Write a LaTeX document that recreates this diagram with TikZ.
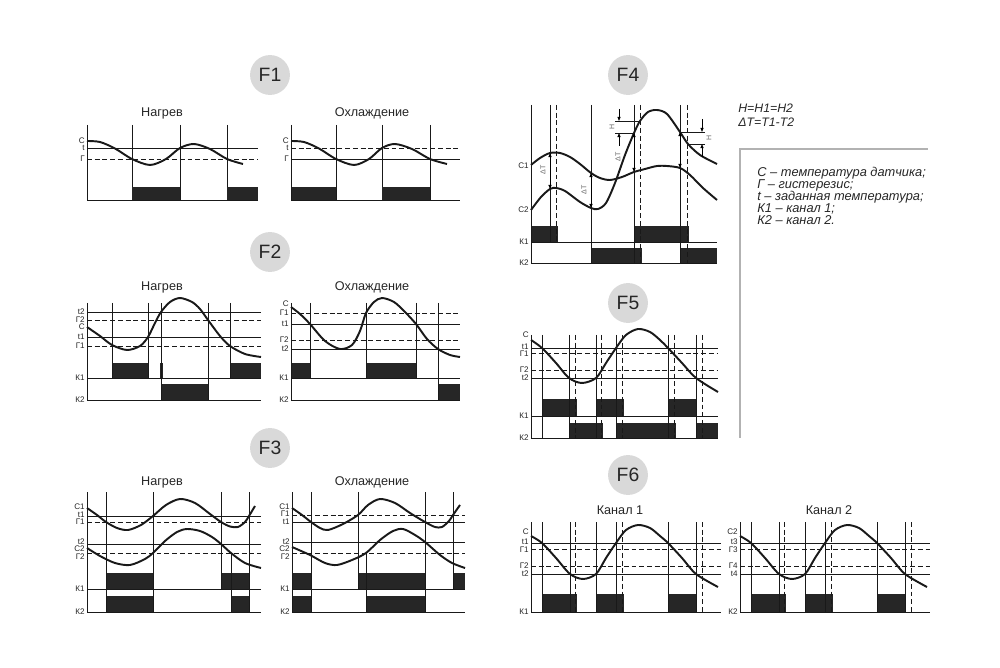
\documentclass[tikz,border=0pt]{standalone}
\usepackage{fontspec}
\setmainfont{Liberation Sans}
\usetikzlibrary{arrows.meta}
\begin{document}
\begin{tikzpicture}[x=0.02cm,y=-0.02cm,
  every node/.style={inner sep=0pt,text=black!85},
  ln/.style={line width=0.5pt,black!90},
  hys/.style={ln,dash pattern=on 2.8pt off 1.6pt},
  sig/.style={line width=1.1pt,black!90,line join=round},
  blk/.style={fill=black!85},
  tag/.style={anchor=east,font=\fontsize{4.6}{5}\selectfont},
  ttl/.style={font=\fontsize{7.2}{8}\selectfont},
  badge/.style={circle,fill=black!15,minimum size=22.7pt,font=\fontsize{11}{11}\selectfont},
  mini/.style={font=\fontsize{4}{4}\selectfont,text=black!60,rotate=90},
  tip/.style={-{Triangle[length=2.4pt,width=1.8pt]},line width=0.45pt},
  tips/.style={{Triangle[length=2.4pt,width=1.8pt]}-{Triangle[length=2.4pt,width=1.8pt]},line width=0.5pt}]
\useasboundingbox (0,0) rectangle (1000,668);
\node[badge] (f1) at (270,75) {F1};
\node[badge] (f2) at (270,252) {F2};
\node[badge] (f3) at (270,448) {F3};
\node[badge] (f4) at (628,75) {F4};
\node[badge] (f5) at (628,303) {F5};
\node[badge] (f6) at (628,475) {F6};
% F1
\node[ttl] (f1h) at (162,113) {Нагрев};
\node[ttl] (f1c) at (372,113) {Охлаждение};
\foreach \x in {132,180,227} \draw[ln] (\x,125) -- (\x,200);
\foreach \a/\b in {132/180,227/258} \fill[blk] (\a,187) rectangle (\b,200);
\draw[ln] (87,125) -- (87,200) -- (258,200);
\draw[ln] (87,148) -- (258,148);
\draw[hys] (87,159) -- (258,159);
\foreach \y/\s [count=\i] in {141/С,148/t,159/Г} \node[tag] (f1a\i) at (85,\y) {\s};
\draw[sig] plot[smooth] coordinates {(87,141) (100,142) (115,148.5) (132,159) (150,165) (166,159) (180,148) (194,144) (210,149) (227,159) (243,164)};
\begin{scope}[shift={(204,0)}]
\foreach \x in {132,178,226} \draw[ln] (\x,125) -- (\x,200);
\foreach \a/\b in {87/132,178/226} \fill[blk] (\a,187) rectangle (\b,200);
\draw[ln] (87,125) -- (87,200) -- (256,200);
\draw[hys] (87,148) -- (256,148);
\draw[ln] (87,159) -- (256,159);
\foreach \y/\s [count=\i] in {141/С,148/t,159/Г} \node[tag] (f1b\i) at (85,\y) {\s};
\draw[sig] plot[smooth] coordinates {(87,141) (100,142) (115,148.5) (132,159) (150,165) (165,159) (178,148) (191,144) (208,149) (226,159) (243,164)};
\end{scope}
% F2
\node[ttl] (f2h) at (162,287) {Нагрев};
\node[ttl] (f2c) at (372,287) {Охлаждение};
\foreach \a/\b in {112/148,160/163,230/261} \fill[blk] (\a,363) rectangle (\b,378);
\fill[blk] (161,384) rectangle (208,400);
\foreach \x/\e in {112/378,148/378,161/400,208/400,230/378} \draw[ln] (\x,303) -- (\x,\e);
\draw[ln] (87,303) -- (87,400) -- (261,400) (87,378) -- (261,378) (87,312) -- (261,312) (87,337) -- (261,337);
\draw[hys] (87,320) -- (261,320) (87,346) -- (261,346);
\foreach \y/\s [count=\i] in {312/t2,320/Г2,327/С,337/t1,346/Г1,378/К1,400/К2} \node[tag] (f2a\i) at (85,\y) {\s};
\draw[sig] plot[smooth] coordinates {(87,327) (100,336) (112,345) (127,350) (140,346) (148,337) (155,323) (161,312) (170,302) (180,298) (192,302) (200,309) (208,320) (220,336) (230,346) (245,354) (261,357)};
\foreach \a/\b in {291/310,366/416} \fill[blk] (\a,363) rectangle (\b,378);
\fill[blk] (438,384) rectangle (460,400);
\foreach \x/\e in {310/378,366/378,416/378,438/400} \draw[ln] (\x,303) -- (\x,\e);
\draw[ln] (291,303) -- (291,400) -- (460,400) (291,378) -- (460,378) (291,324) -- (460,324) (291,349) -- (460,349);
\draw[hys] (291,313) -- (460,313) (291,340) -- (460,340);
\foreach \y/\s [count=\i] in {304/С,313/Г1,324/t1,340/Г2,349/t2,378/К1,400/К2} \node[tag] (f2b\i) at (289,\y) {\s};
\draw[sig] plot[smooth] coordinates {(291,307) (300,314) (310,324) (325,341) (340,349) (352,345) (360,331) (366,313) (374,302) (382,298) (394,302) (405,312) (416,324) (427,339) (438,349) (450,355) (460,357)};
% F3
\node[ttl] (f3h) at (162,482) {Нагрев};
\node[ttl] (f3c) at (372,482) {Охлаждение};
\foreach \a/\b in {107/153,221/249} \fill[blk] (\a,573) rectangle (\b,589);
\foreach \a/\b in {107/153,231/249} \fill[blk] (\a,596) rectangle (\b,612);
\foreach \x/\s/\e in {106/492/612,153/492/612,221/492/589,231/553/612,249/492/612} \draw[ln] (\x,\s) -- (\x,\e);
\draw[ln] (87,492) -- (87,612) -- (261,612) (87,589) -- (261,589) (87,516) -- (261,516) (87,544) -- (261,544);
\draw[hys] (87,522) -- (261,522) (87,553) -- (261,553);
\foreach \y/\s [count=\i] in {507/С1,515/t1,522/Г1,542/t2,549/С2,557/Г2,589/К1,612/К2} \node[tag] (f3a\i) at (85,\y) {\s};
\draw[sig] plot[smooth] coordinates {(87,508) (97,515) (106,522) (117,528) (128,530) (141,525) (153,516) (166,505) (180,499) (195,503) (210,514) (221,522) (230,526.5) (238,527) (245,522) (249,516) (255,506)};
\draw[sig] plot[smooth] coordinates {(87,548) (100,556) (115,563) (130,565) (145,559) (153,553) (165,541) (177,532) (187,529) (200,531) (212,537) (221,544) (231,553) (245,563) (261,568)};
\foreach \a/\b in {292/311,358/425,453/465} \fill[blk] (\a,573) rectangle (\b,589);
\foreach \a/\b in {292/311,366/425} \fill[blk] (\a,596) rectangle (\b,612);
\foreach \x/\s/\e in {311/492/612,358/492/589,366/553/612,425/492/612,453/492/589} \draw[ln] (\x,\s) -- (\x,\e);
\draw[ln] (292,492) -- (292,612) -- (465,612) (292,589) -- (465,589) (292,522) -- (465,522) (292,542) -- (465,542);
\draw[hys] (292,515) -- (465,515) (292,553) -- (465,553);
\foreach \y/\s [count=\i] in {507/С1,514/Г1,522/t1,542/t2,549/С2,557/Г2,589/К1,612/К2} \node[tag] (f3b\i) at (290,\y) {\s};
\draw[sig] plot[smooth] coordinates {(292,508) (302,515) (311,522) (320,528) (328,530) (343,524) (358,515) (368,505) (380,499) (395,503) (410,513) (425,522) (435,527) (442,527) (449,521) (453,515) (460,505)};
\draw[sig] plot[smooth] coordinates {(292,547) (310,555) (325,563) (337,565) (352,560) (366,553) (380,540) (393,531) (403,529) (415,535) (425,542) (440,555) (452,563) (465,568)};
% F4
\foreach \a/\b in {531/557.5,634/688.5} \fill[blk] (\a,226) rectangle (\b,242);
\foreach \a/\b in {591/641.5,680/717} \fill[blk] (\a,248) rectangle (\b,263);
\foreach \x/\e in {550/242,591/263,634/263,680/263} \draw[ln] (\x,105) -- (\x,\e);
\foreach \x/\e in {556/242,640/263,687/263} \draw[hys] (\x,105) -- (\x,\e);
\draw[ln] (531,105) -- (531,263) -- (717,263) (531,242) -- (717,242);
\foreach \y/\s [count=\i] in {166/С1,210/С2,242/К1,263/К2} \node[tag] (f4a\i) at (529,\y) {\s};
\draw[sig] plot[smooth] coordinates {(531,165) (540,158) (550,153) (560,153) (570,157) (580,164) (591,173) (600,178) (610,180) (622,177) (634,172) (645,169) (657,166) (667,166) (680,168) (690,175) (703,188) (717,200)};
\draw[sig] plot[smooth] coordinates {(531,210) (541,197) (550,189) (556,188) (565,191) (580,202) (591,208) (598,209) (606,203) (615,183) (625,155) (634,133) (640,121) (648,112) (657,110) (667,114) (680,132) (688,144) (700,155) (717,164)};
\draw[tips] (550,153) -- (550,189);
\draw[tips] (591,173) -- (591,208);
\draw[tips] (634,133) -- (634,172);
\draw[tips] (680,132) -- (680,168);
\draw[ln] (615,121) -- (640,121) (615,133) -- (634,133) (680,132) -- (705,132) (688,144) -- (705,144);
\draw[tip] (619,109) -- (619,121);
\draw[tip] (619,146) -- (619,133);
\draw[tip] (702,119) -- (702,132);
\draw[tip] (702,157) -- (702,144);
\node[mini] (dt1) at (543,170) {ΔT};
\node[mini] (dt2) at (584,190) {ΔT};
\node[mini] (dt3) at (618,157) {ΔT};
\node[mini] (h1) at (612,127) {H};
\node[mini] (h2) at (709,138) {H};
\node[anchor=base west,font=\fontsize{7}{8}\selectfont\itshape] (hh) at (738,113) {H=H1=H2};
\node[anchor=base west,font=\fontsize{7}{8}\selectfont\itshape] (dd) at (738,127) {ΔT=T1-T2};
% legend
\draw[line width=0.8pt,black!30] (740,438) -- (740,149) -- (928,149);
\foreach \s [count=\i] in {С – температура датчика;,Г – гистерезис;,t – заданная температура;,К1 – канал 1;,К2 – канал 2.}
  \node[anchor=base west,font=\fontsize{7.3}{8}\selectfont\itshape] (leg\i) at (757,164.5+12*\i) {\s};
% F5
\foreach \a/\b in {542/576.5,596/623.5,668/696} \fill[blk] (\a,399) rectangle (\b,416);
\foreach \a/\b in {569/602.5,616/675.5,696/718} \fill[blk] (\a,423) rectangle (\b,438);
\foreach \x in {542,569,596,616,668,696} \draw[ln] (\x,335) -- (\x,438);
\foreach \x in {575,601,622,674,702} \draw[hys] (\x,335) -- (\x,438);
\draw[ln] (531,335) -- (531,438) -- (718,438) (531,416) -- (718,416) (531,348) -- (718,348) (531,378) -- (718,378);
\draw[hys] (531,353) -- (718,353) (531,370) -- (718,370);
\foreach \y/\s [count=\i] in {335/С,347/t1,354/Г1,370/Г2,378/t2,416/К1,438/К2} \node[tag] (f5a\i) at (529,\y) {\s};
\draw[sig] plot[smooth] coordinates {(531,340) (542,348) (556,363) (569,378) (582,383) (596,378) (606,363) (616,348) (626,335) (638,329) (650,332) (660,340) (668,348) (682,363) (696,378) (718,392)};
% F6
\foreach \dx/\ca/\ta/\ga/\gb/\tb/\kk/\nm in {0/С/t1/Г1/Г2/t2/К1/Канал 1,209/С2/t3/Г3/Г4/t4/К2/Канал 2}{
\begin{scope}[shift={(\dx,0)}]
\node[ttl] (f6h\dx) at (620,510) {\nm};
\foreach \a/\b in {542/576.5,596/623.5,668/696} \fill[blk] (\a,594) rectangle (\b,612);
\foreach \x in {542,570,596,616,668,696} \draw[ln] (\x,522) -- (\x,612);
\foreach \x in {575,622,702} \draw[hys] (\x,522) -- (\x,612);
\draw[ln] (531,522) -- (531,612) -- (721,612) (531,543) -- (721,543) (531,574) -- (721,574);
\draw[hys] (531,549) -- (721,549) (531,566) -- (721,566);
\foreach \y/\s [count=\i] in {532/\ca,542/\ta,550/\ga,566/\gb,574/\tb,612/\kk} \node[tag] (f6a\dx-\i) at (529,\y) {\s};
\draw[sig] plot[smooth] coordinates {(531,536) (542,543) (556,558) (570,574) (583,579) (596,574) (606,558) (616,543) (626,530) (638,525) (650,528) (660,536) (668,543) (682,558) (696,574) (718,587)};
\end{scope}}
\end{tikzpicture}
\end{document}
